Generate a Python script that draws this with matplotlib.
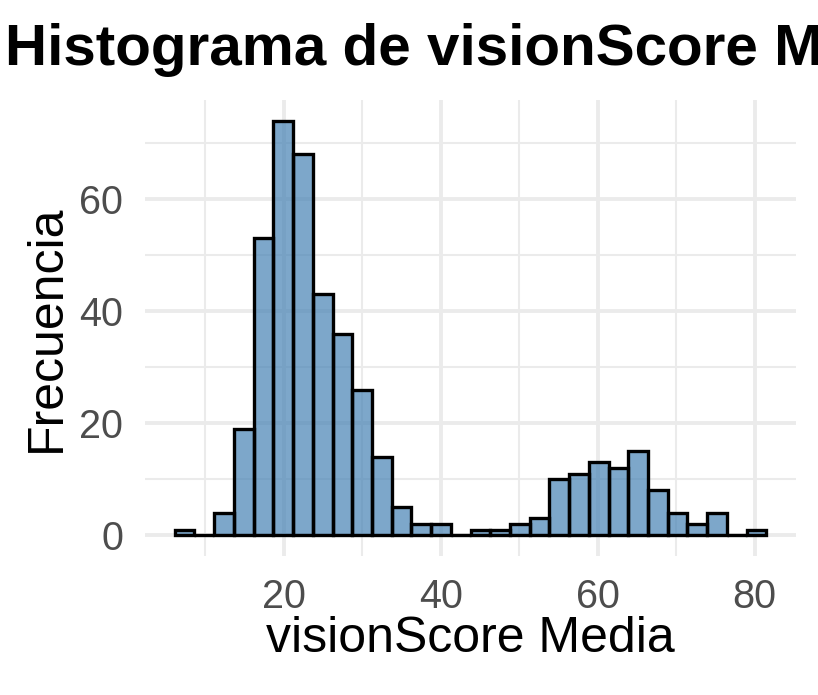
import matplotlib
matplotlib.use("Agg")
import matplotlib.pyplot as plt
import numpy as np

# histogram: 30 bins from ~6.1 to ~81.5
bin_lo = 6.1
bin_hi = 81.5
counts = [1, 0, 4, 19, 53, 74, 68, 43, 36, 26, 14, 5, 2, 2, 0,
          1, 1, 2, 3, 10, 11, 13, 12, 15, 8, 4, 2, 4, 0, 1]
x_ticks = [20, 40, 60, 80]
y_ticks = [0, 20, 40, 60]

title = "Histograma de visionScore Media"
x_label = "visionScore Media"
y_label = "Frecuencia"

plt.rcParams['font.family'] = ['Liberation Sans', 'DejaVu Sans']

edges = np.linspace(bin_lo, bin_hi, len(counts) + 1)
widths = np.diff(edges)

fig = plt.figure(figsize=(8.18, 6.95), dpi=100)
ax_box = [0.1775, 0.2, 0.7955, 0.656]
ax = fig.add_axes(ax_box)

grid_col = "#EBEBEB"
# minor grid first, bars above
for v in [10, 30, 50, 70]:
    ax.axvline(v, color=grid_col, lw=1.5, zorder=0)
    ax.axhline(v, color=grid_col, lw=1.5, zorder=0)
for v in x_ticks:
    ax.axvline(v, color=grid_col, lw=2.8, zorder=0)
for v in y_ticks:
    ax.axhline(v, color=grid_col, lw=2.8, zorder=0)

ax.bar(edges[:-1], counts, width=widths, align='edge',
       color='steelblue', alpha=0.7, edgecolor='none', zorder=2)
ax.bar(edges[:-1], counts, width=widths, align='edge',
       facecolor='none', edgecolor='black', linewidth=2.4, zorder=3)

span = bin_hi - bin_lo
ax.set_xlim(bin_lo - 0.05 * span, bin_hi + 0.05 * span)
ymax = max(counts)
ax.set_ylim(-0.05 * ymax, ymax * 1.05)

ax.set_xticks(x_ticks)
ax.set_yticks(y_ticks)
ax.tick_params(length=0, labelsize=28.5, labelcolor="#4D4D4D", pad=16)
for s in ax.spines.values():
    s.set_visible(False)

ax.set_xlabel(x_label, fontsize=36, labelpad=0)
ax.set_ylabel(y_label, fontsize=36, labelpad=7)
# title runs past the right edge like the original
fig.text(5 / 818, 1 - 65 / 695, title, fontsize=42,
         fontweight='bold', ha='left', va='baseline')

fig.savefig("out.png", dpi=100)
